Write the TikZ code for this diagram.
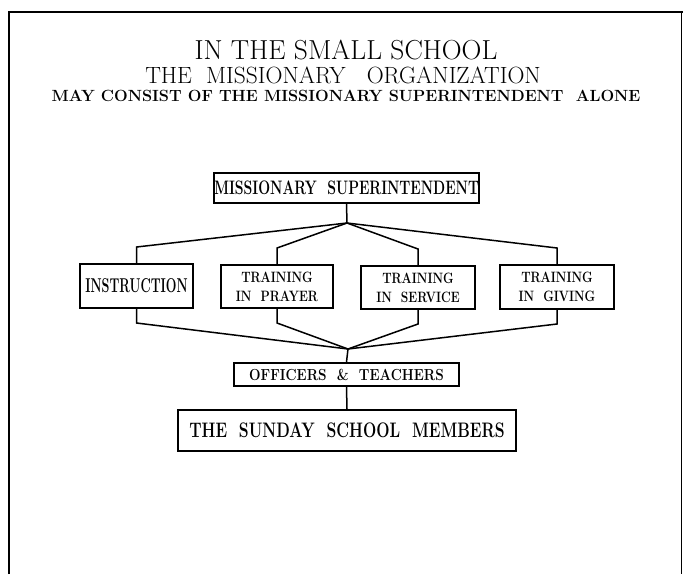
\documentclass[tikz,border=0pt]{standalone}
\usepackage{graphicx}
\usepackage{tikz}
\usetikzlibrary{arrows}
\newcommand{\narrowtext}[2]{\scalebox{#1}[1]{#2}}

\begin{document}
\begin{tikzpicture}[x=1pt,y=-1pt]
\tikzstyle{box}=[draw,line width=2pt,inner sep=0pt,align=center];
\tikzstyle{wire}=[line width=1.5pt];
\tikzstyle{head}=[inner sep=0pt];
\tikzstyle{small}=[font=\fontsize{15}{19}\selectfont\bfseries];
\useasboundingbox (0,0) rectangle (683,574);
% frame
\draw [line width=1.3pt] (9,574) -- (9,12) -- (683,12);
\draw [line width=0.8pt] (681,12) -- (681,574);
% heading
\node [head](t1) at (346,50) {\fontsize{27.5}{27.5}\selectfont IN THE SMALL SCHOOL};
\node [head](t2) at (343,75.5) {\fontsize{23.5}{23.5}\selectfont THE\ \ MISSIONARY\ \ \ ORGANIZATION};
\node [head](t3) at (346,96) {\fontsize{16.2}{16.2}\selectfont\bfseries MAY CONSIST OF THE MISSIONARY SUPERINTENDENT\ \ ALONE};
% boxes
\node [box,minimum width=263,minimum height=30](ms) at (346.5,188)
  {\fontsize{19.5}{19.5}\selectfont\bfseries\narrowtext{0.72}{MISSIONARY\ \ SUPERINTENDENT}};
\node [box,minimum width=113,minimum height=44](ins) at (136.5,286)
  {\fontsize{20}{20}\selectfont\bfseries\narrowtext{0.63}{INSTRUCTION}};
\node [box,small,minimum width=112,minimum height=43](pra) at (277,286.5)
  {\narrowtext{0.8}{TRAINING}\\\narrowtext{0.8}{IN\ \ PRAYER}};
\node [box,small,minimum width=114,minimum height=43](ser) at (418,287.5)
  {\narrowtext{0.8}{TRAINING}\\\narrowtext{0.8}{IN\ \ SERVICE}};
\node [box,small,minimum width=114,minimum height=44](giv) at (557,287)
  {\narrowtext{0.8}{TRAINING}\\\narrowtext{0.8}{IN\ \ GIVING}};
\node [box,minimum width=225,minimum height=23](off) at (346.5,374.5)
  {\fontsize{16}{16}\selectfont\bfseries\narrowtext{0.85}{OFFICERS\ \ \&\ \ TEACHERS}};
\node [box,minimum width=338,minimum height=41](sun) at (347,430.5)
  {\fontsize{21}{21}\selectfont\bfseries\narrowtext{0.75}{THE\ \ SUNDAY\ \ SCHOOL\ \ MEMBERS}};
% junctions
\coordinate (j1) at (347,223);
\coordinate (j2) at (348,349);
\draw [wire] (ms.south) -- (j1);
\foreach \b in {ins,pra,ser,giv}
  \draw [wire] (j1) -- ([yshift=16pt]\b.north) -- (\b.north);
\foreach \b in {ins,pra,ser,giv}
  \draw [wire] (\b.south) -- ([yshift=-14pt]\b.south) -- (j2);
\draw [wire] (j2) -- (off.north);
\draw [wire] (off.south) -- (sun.north);
\end{tikzpicture}
\end{document}
